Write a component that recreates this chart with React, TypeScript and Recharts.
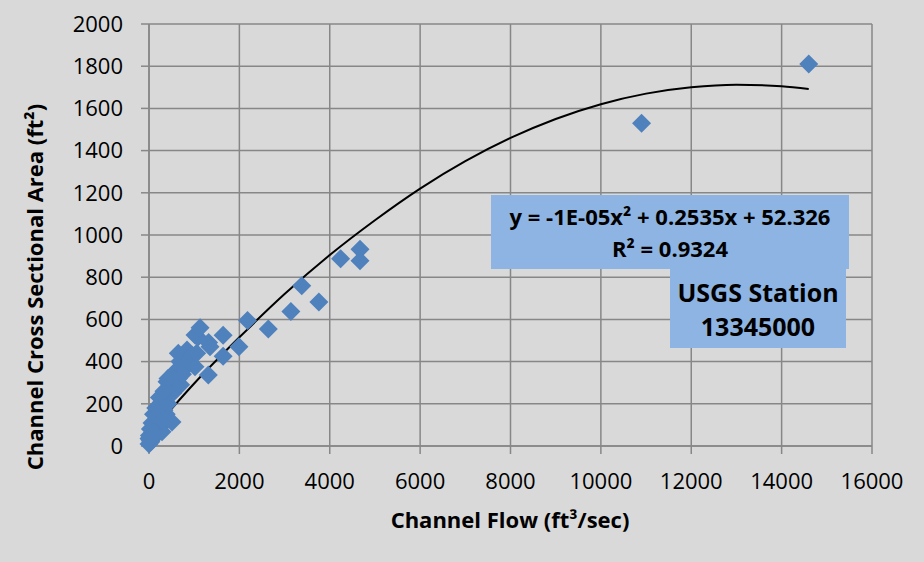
import React from "react";
import { ComposedChart, Scatter, Line, XAxis, YAxis, CartesianGrid } from "recharts";

// observed stations: flow (ft3/sec) and cross sectional area (ft2)
const flow = [
  0, 20, 40, 10, 60, 80, 66, 120, 150, 177, 200, 250, 220, 288, 288, 300, 330, 354, 380, 398,
  420, 450, 509, 480, 520, 575, 560, 600, 650, 686, 700, 740, 648, 800, 841, 880, 950, 1018,
  1055, 1018, 1080, 1130, 1320, 1350, 1312, 1640, 1640, 1990, 2180, 2640, 3140, 3380, 3760,
  4240, 4670, 4670, 10900, 14600,
  0, 30, 100, 150, 230, 260, 330, 420, 500,
];
const area = [
  10, 30, 20, 50, 40, 65, 109, 80, 100, 147, 60, 90, 130, 68, 210, 120, 170, 257, 150, 305,
  200, 240, 114, 280, 250, 352, 300, 270, 320, 400, 290, 340, 440, 370, 455, 400, 430, 376,
  439, 526, 515, 560, 490, 470, 336, 525, 425, 470, 595, 555, 637, 760, 682,
  888, 932, 878, 1530, 1810,
  35, 80, 150, 180, 230, 200, 260, 320, 330,
];

// polynomial trendline
const trendFlow = [0, 1000, 2000, 3000, 4000, 5000, 6000, 7000, 8000, 9000, 10000, 11000, 12000, 13000, 14000, 14600];
const trendArea = [52, 296, 515, 720, 905, 1070, 1220, 1350, 1460, 1550, 1620, 1670, 1700, 1712, 1705, 1692];

const xTicks = [0, 2000, 4000, 6000, 8000, 10000, 12000, 14000, 16000];
const yTicks = [0, 200, 400, 600, 800, 1000, 1200, 1400, 1600, 1800, 2000];

const points = flow.map((x, i) => ({ x, y: area[i] }));
const trend = trendFlow.map((x, i) => ({ x, y: trendArea[i] }));

const font = "'Open Sans', sans-serif";
const gridColor = "#878787";

function Diamond(props: any) {
  const { cx, cy } = props;
  const r = 9.5;
  return (
    <polygon
      points={`${cx},${cy - r} ${cx + r},${cy} ${cx},${cy + r} ${cx - r},${cy}`}
      fill="#4f81bd"
    />
  );
}

export default function App() {
  return (
    <div style={{ position: "absolute", left: 0, top: 0, width: 924, height: 562, background: "#d9d9d9" }}>
      <ComposedChart width={924} height={562} margin={{ top: 24, right: 52, left: 0, bottom: 0 }}>
        <CartesianGrid stroke={gridColor} strokeWidth={1.5} />
        <XAxis
          type="number"
          dataKey="x"
          domain={[0, 16000]}
          ticks={xTicks}
          height={116}
          stroke={gridColor}
          strokeWidth={1.5}
          tickSize={8}
          tickMargin={19}
          tick={{ fill: "#000", fontSize: 22, fontFamily: font }}
        />
        <YAxis
          type="number"
          dataKey="y"
          domain={[0, 2000]}
          ticks={yTicks}
          width={149}
          stroke={gridColor}
          strokeWidth={1.5}
          tickSize={8}
          tickMargin={18}
          tick={{ fill: "#000", fontSize: 22, fontFamily: font }}
        />
        <Scatter data={points} dataKey="y" shape={Diamond} isAnimationActive={false} />
        <Line
          data={trend}
          dataKey="y"
          type="monotone"
          stroke="#000"
          strokeWidth={2}
          dot={false}
          isAnimationActive={false}
        />
      </ComposedChart>
      <svg
        width={924}
        height={562}
        style={{ position: "absolute", left: 0, top: 0, pointerEvents: "none" }}
        fontFamily={font}
        fontWeight="bold"
      >
        <text x={510} y={528} textAnchor="middle" fontSize={22}>
          Channel Flow (ft³/sec)
        </text>
        <text
          x={0}
          y={0}
          transform="translate(43,287) rotate(-90)"
          textAnchor="middle"
          fontSize={22}
        >
          Channel Cross Sectional Area (ft²)
        </text>
        <rect x={491} y={195} width={358} height={74} fill="#8db4e2" />
        <rect x={670} y={269} width={176} height={79} fill="#8db4e2" />
        <text x={670} y={225} textAnchor="middle" fontSize={22}>
          y = -1E-05x² + 0.2535x + 52.326
        </text>
        <text x={670} y={257} textAnchor="middle" fontSize={22}>
          R² = 0.9324
        </text>
        <text x={758} y={302} textAnchor="middle" fontSize={25}>
          USGS Station
        </text>
        <text x={758} y={336} textAnchor="middle" fontSize={25}>
          13345000
        </text>
      </svg>
    </div>
  );
}
